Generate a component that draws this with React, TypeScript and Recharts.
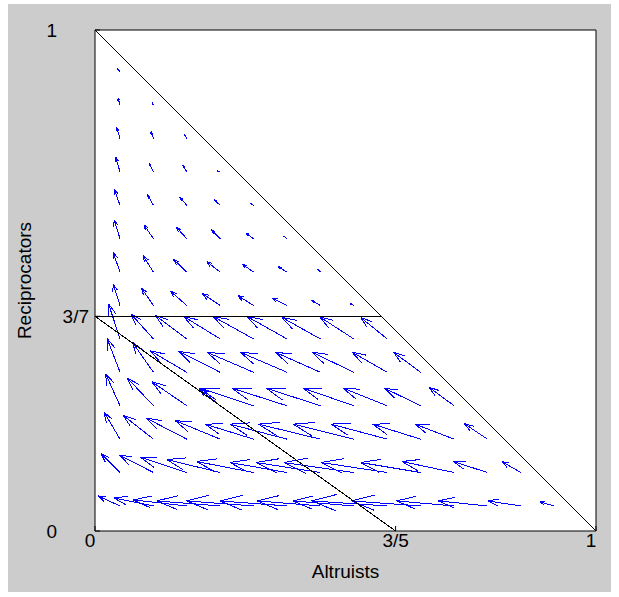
import {CartesianGrid, Label, ReferenceLine, ScatterChart, XAxis, YAxis} from 'recharts'

// arrow tails (same grid on both axes)
const gridX = [0.05, 0.1167, 0.1833, 0.25, 0.3167, 0.3833, 0.45, 0.5167, 0.5833, 0.65, 0.7167, 0.7833, 0.85, 0.9167]
const gridY = [0.05, 0.1167, 0.1833, 0.25, 0.3167, 0.3833, 0.45, 0.5167, 0.5833, 0.65, 0.7167, 0.7833, 0.85, 0.9167]

// arrow components, one list per row, bottom row first
const uRows = [
    [-0.044, -0.079, -0.107, -0.127, -0.134, -0.134, -0.126, -0.122, -0.151, -0.138, -0.115, -0.098, -0.066, -0.029],
    [-0.038, -0.068, -0.093, -0.107, -0.114, -0.114, -0.128, -0.14, -0.132, -0.12, -0.104, -0.068, -0.038],
    [-0.032, -0.061, -0.081, -0.09, -0.097, -0.114, -0.124, -0.121, -0.112, -0.096, -0.078, -0.046],
    [-0.029, -0.052, -0.07, -0.042, -0.107, -0.11, -0.108, -0.101, -0.088, -0.072, -0.05],
    [-0.026, -0.042, -0.073, -0.083, -0.093, -0.093, -0.09, -0.083, -0.07, -0.054],
    [-0.023, -0.045, -0.063, -0.073, -0.081, -0.08, -0.077, -0.068, -0.053],
    [-0.014, -0.024, -0.033, -0.036, -0.032, -0.03, -0.018, -0.008],
    [-0.014, -0.021, -0.027, -0.027, -0.023, -0.018, -0.006],
    [-0.012, -0.019, -0.021, -0.018, -0.016, -0.007],
    [-0.012, -0.012, -0.014, -0.012, -0.006],
    [-0.009, -0.009, -0.008, -0.007],
    [-0.007, -0.005, -0.005],
    [-0.004, -0.003],
    [-0.006],
]
const vRows = [
    [0.02, 0.016, 0.012, 0.01, 0.01, 0.01, 0.01, 0.01, 0.01, 0.01, 0.01, 0.01, 0.01, 0.008],
    [0.038, 0.035, 0.031, 0.026, 0.022, 0.02, 0.02, 0.02, 0.02, 0.02, 0.022, 0.022, 0.022],
    [0.054, 0.048, 0.042, 0.037, 0.03, 0.03, 0.03, 0.03, 0.03, 0.03, 0.03, 0.031],
    [0.064, 0.055, 0.048, 0.034, 0.035, 0.035, 0.035, 0.035, 0.035, 0.035, 0.037],
    [0.068, 0.06, 0.043, 0.042, 0.04, 0.04, 0.04, 0.04, 0.04, 0.04],
    [0.07, 0.05, 0.047, 0.045, 0.045, 0.045, 0.043, 0.044, 0.043],
    [0.043, 0.035, 0.029, 0.024, 0.02, 0.015, 0.01, 0.005],
    [0.04, 0.033, 0.026, 0.021, 0.016, 0.011, 0.006],
    [0.038, 0.028, 0.023, 0.018, 0.012, 0.006],
    [0.033, 0.022, 0.016, 0.011, 0.004],
    [0.03, 0.018, 0.013, 0.003],
    [0.023, 0.014, 0.008],
    [0.014, 0.005],
    [0.006],
]

const xTicks = [0, 0.6, 1]
const xTickLabels = ['0', '3/5', '1']
const yTicks = [0, 3 / 7, 1]
const yTickLabels = ['0', '3/7', '1']

// black boundary lines
const boundaries = [
    {x1: 0, y1: 1, x2: 1, y2: 0},
    {x1: 0, y1: 3 / 7, x2: 4 / 7, y2: 3 / 7},
    {x1: 0, y1: 3 / 7, x2: 3 / 5, y2: 0},
]

const FONT = 'Arial, "Liberation Sans", sans-serif'
const HEAD = 0.33
const SPREAD = 0.33

type Pt = {x: number, y: number}
const segments: Pt[][] = []
uRows.forEach((row, j) => {
    row.forEach((u, i) => {
        const v = vRows[j][i]
        const x = gridX[i]
        const y = gridY[j]
        const tip = {x: x + u, y: y + v}
        segments.push([{x, y}, tip])
        segments.push([{x: tip.x - HEAD * (u + SPREAD * v), y: tip.y - HEAD * (v - SPREAD * u)}, tip])
        segments.push([{x: tip.x - HEAD * (u - SPREAD * v), y: tip.y - HEAD * (v + SPREAD * u)}, tip])
    })
})

const xNudge = [-5, 0, -5]
const yNudge = [-32, 0, -32]

const XTick = (props: any) => {
    const {x, y, payload} = props
    const k = xTicks.indexOf(payload.value)
    return (
        <text x={x + xNudge[k]} y={y} dy="0.71em" textAnchor="middle" fontSize={19} fontFamily={FONT} fill="#000">
            {xTickLabels[k]}
        </text>
    )
}

const YTick = (props: any) => {
    const {x, y, payload} = props
    const k = yTicks.indexOf(payload.value)
    return (
        <text x={x + yNudge[k]} y={y} dy="0.355em" textAnchor="end" fontSize={19} fontFamily={FONT} fill="#000">
            {yTickLabels[k]}
        </text>
    )
}

const App = () => {
    return (
        <div style={{position: 'absolute', left: 0, top: 0, width: 619, height: 597, background: '#fff'}}>
            <div style={{position: 'absolute', left: 8, top: 4, width: 603, height: 588, background: '#cccccc'}} />
            <div style={{position: 'absolute', left: 0, top: 0}}>
                <ScatterChart width={619} height={597} margin={{top: 29, right: 22, bottom: 16, left: 20}}>
                    <CartesianGrid fill="#fff" horizontal={false} vertical={false} />
                    <XAxis type="number" dataKey="x" domain={[0, 1]} ticks={xTicks} allowDataOverflow
                        height={50} tickSize={-5} tickMargin={8} tick={<XTick />}
                        stroke="#000" axisLine={{stroke: '#000'}} tickLine={{stroke: '#000'}}>
                        <Label value="Altruists" position="insideBottom" offset={3} fontSize={19} fontFamily={FONT} fill="#000" />
                    </XAxis>
                    <YAxis type="number" dataKey="y" domain={[0, 1]} ticks={yTicks} allowDataOverflow
                        width={75} tickSize={-5} tickMargin={11} tick={<YTick />}
                        stroke="#000" axisLine={{stroke: '#000'}} tickLine={{stroke: '#000'}}>
                        <Label value="Reciprocators" angle={-90} position="insideLeft" offset={4}
                            fontSize={19} fontFamily={FONT} fill="#000" style={{textAnchor: 'middle'}} />
                    </YAxis>
                    <XAxis xAxisId="top" orientation="top" type="number" domain={[0, 1]} ticks={xTicks} allowDataOverflow
                        height={1} tickSize={-5} tick={false} axisLine={{stroke: '#000'}} tickLine={{stroke: '#000'}} />
                    <YAxis yAxisId="right" orientation="right" type="number" domain={[0, 1]} ticks={yTicks} allowDataOverflow
                        width={1} tickSize={-5} tick={false} axisLine={{stroke: '#000'}} tickLine={{stroke: '#000'}} />
                    {segments.map((s, k) => (
                        <ReferenceLine key={`a${k}`} segment={s} stroke="#0000ff" strokeWidth={1}
                            shapeRendering="crispEdges" ifOverflow="visible" />
                    ))}
                    {boundaries.map((b, k) => (
                        <ReferenceLine key={`b${k}`} segment={[{x: b.x1, y: b.y1}, {x: b.x2, y: b.y2}]}
                            stroke="#000" strokeWidth={1} shapeRendering="crispEdges" ifOverflow="visible" />
                    ))}
                </ScatterChart>
            </div>
        </div>
    )
}

export default App
